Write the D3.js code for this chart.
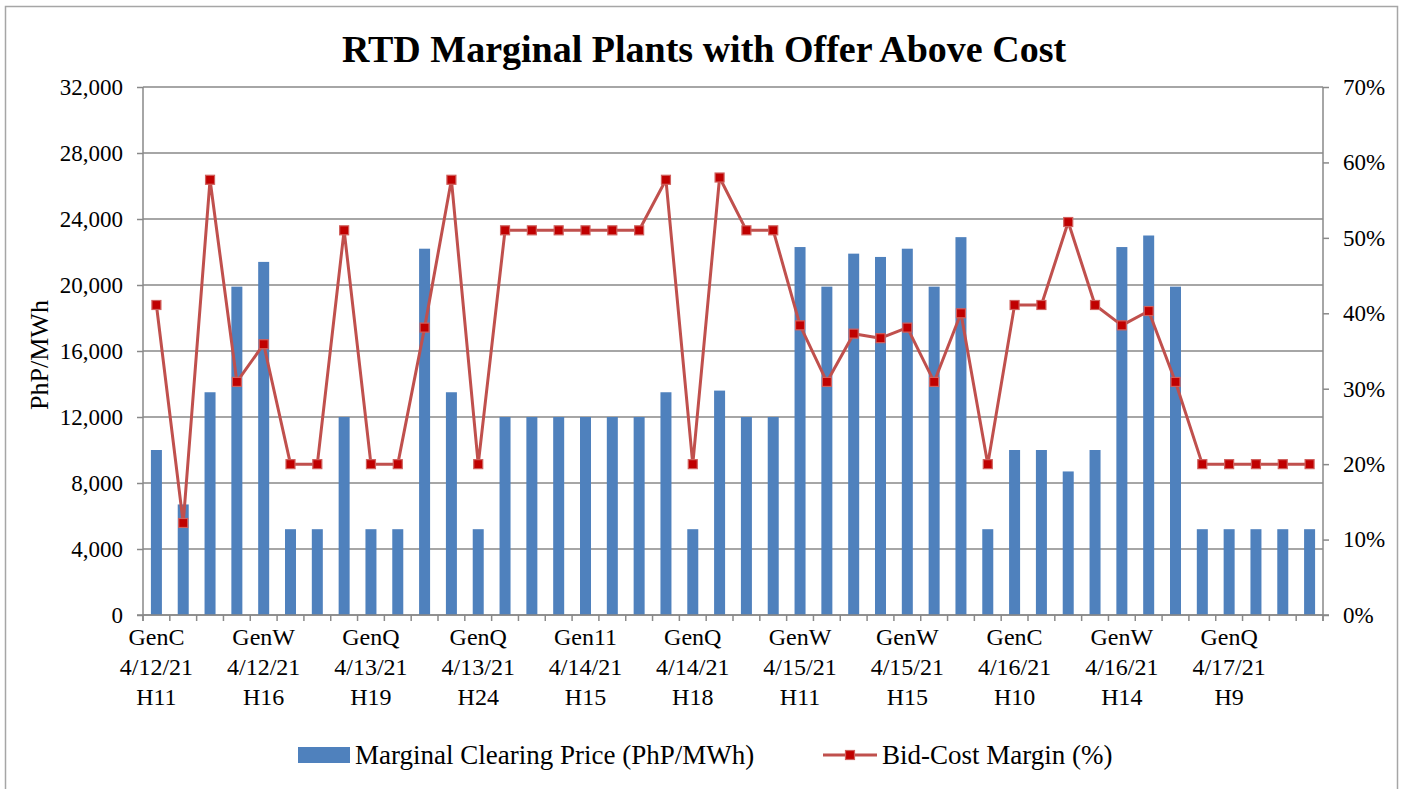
<!DOCTYPE html>
<html lang="en">
<head>
  <meta charset="UTF-8">
  <title>RTD Marginal Plants with Offer Above Cost</title>
  <script src="https://cdn.jsdelivr.net/npm/d3@7"></script>
  <style>
    body { margin: 0; background: #fff; }
    text { font-family: "Liberation Serif", "Times New Roman", serif; fill: #000; }
  </style>
</head>
<body>
  <svg width="1405" height="789"></svg>
  <script>
    // every 4th category carries a label
    let tickLabels = [
      ['GenC', '4/12/21', 'H11'], ['GenW', '4/12/21', 'H16'], ['GenQ', '4/13/21', 'H19'],
      ['GenQ', '4/13/21', 'H24'], ['Gen11', '4/14/21', 'H15'], ['GenQ', '4/14/21', 'H18'],
      ['GenW', '4/15/21', 'H11'], ['GenW', '4/15/21', 'H15'], ['GenC', '4/16/21', 'H10'],
      ['GenW', '4/16/21', 'H14'], ['GenQ', '4/17/21', 'H9']
    ];
    let price = [
      10000, 6700, 13500, 19900, 21400, 5200, 5200, 12000, 5200, 5200, 22200,
      13500, 5200, 12000, 12000, 12000, 12000, 12000, 12000, 13500, 5200, 13600,
      12000, 12000, 22300, 19900, 21900, 21700, 22200, 19900, 22900, 5200, 10000,
      10000, 8700, 10000, 22300, 23000, 19900, 5200, 5200, 5200, 5200, 5200
    ];
    let margin = [
      41.1, 12.2, 57.7, 30.9, 35.9, 20, 20, 51, 20, 20, 38.1,
      57.7, 20, 51, 51, 51, 51, 51, 51, 57.7, 20, 58.0,
      51, 51, 38.4, 30.9, 37.3, 36.7, 38.1, 30.9, 40.0, 20, 41.1,
      41.1, 52.1, 41.1, 38.4, 40.3, 30.9, 20, 20, 20, 20, 20
    ];
    let leftTicks = [0, 4000, 8000, 12000, 16000, 20000, 24000, 28000, 32000];
    let rightTicks = [0, 10, 20, 30, 40, 50, 60, 70];

    let svg = d3.select('svg');
    let plotL = 143, plotR = 1323, plotT = 87, plotB = 615;
    let gray = '#898989';

    // outer frame
    svg.append('rect')
      .attr('x', 5.5).attr('y', 6.5).attr('width', 1392).attr('height', 800)
      .attr('fill', 'none').attr('stroke', '#a6a6a6').attr('stroke-width', 1.5);

    let idx = price.map((d, i) => i);
    let x = d3.scaleBand().domain(idx).range([plotL, plotR]);
    let y = d3.scaleLinear().domain([0, 32000]).range([plotB, plotT]);
    let y2 = d3.scaleLinear().domain([0, 70]).range([plotB, plotT]);

    // gridlines
    svg.append('g')
      .selectAll('line')
      .data(leftTicks)
      .join('line')
      .attr('x1', plotL).attr('x2', plotR)
      .attr('y1', d => y(d)).attr('y2', d => y(d))
      .attr('stroke', gray).attr('stroke-width', 1.5);

    // bars
    let bw = 11;
    svg.append('g')
      .selectAll('rect')
      .data(price)
      .join('rect')
      .attr('x', (d, i) => x(i) + x.bandwidth() / 2 - bw / 2)
      .attr('y', d => y(d))
      .attr('width', bw)
      .attr('height', d => plotB - y(d))
      .attr('fill', '#4f81bd');

    // left axis
    let gl = svg.append('g')
      .attr('transform', `translate(${plotL},0)`)
      .call(d3.axisLeft(y).tickValues(leftTicks).tickSize(6).tickPadding(14).tickFormat(d3.format(',')));
    // right axis
    let gr = svg.append('g')
      .attr('transform', `translate(${plotR},0)`)
      .call(d3.axisRight(y2).tickValues(rightTicks).tickSize(6).tickPadding(14).tickFormat(d => d + '%'));
    // bottom axis ticks at band boundaries
    let gb = svg.append('g')
      .attr('transform', `translate(0,${plotB})`);
    gb.append('line')
      .attr('x1', plotL - 6).attr('x2', plotR + 6)
      .attr('stroke', gray).attr('stroke-width', 1.5);
    gb.selectAll('.bt')
      .data(idx.concat([price.length]))
      .join('line')
      .attr('class', 'bt')
      .attr('x1', d => plotL + d * x.step()).attr('x2', d => plotL + d * x.step())
      .attr('y1', 0).attr('y2', 6)
      .attr('stroke', gray).attr('stroke-width', 1.5);

    [gl, gr].forEach(g => {
      g.select('.domain').attr('stroke', gray).attr('stroke-width', 1.5);
      g.selectAll('.tick line').attr('stroke', gray).attr('stroke-width', 1.5);
      g.selectAll('.tick text').style('font-family', '"Liberation Serif", serif')
        .style('font-size', '23px').attr('fill', '#000');
    });
    gl.select('.domain').attr('d', `M0,${plotT}V${plotB + 6}`);
    gr.select('.domain').attr('d', `M0,${plotT}V${plotB + 6}`);

    // category labels
    let lab = svg.append('g');
    tickLabels.forEach((t, k) => {
      let cx = x(k * 4) + x.bandwidth() / 2;
      lab.append('text')
        .attr('x', cx).attr('y', 645)
        .attr('text-anchor', 'middle')
        .style('font-size', '24px')
        .selectAll('tspan')
        .data(t)
        .join('tspan')
        .attr('x', cx)
        .attr('dy', (d, i) => i === 0 ? 0 : 30)
        .text(d => d);
    });

    // line series
    let line = d3.line()
      .x((d, i) => x(i) + x.bandwidth() / 2)
      .y(d => y2(d));
    svg.append('path')
      .datum(margin)
      .attr('d', line)
      .attr('fill', 'none')
      .attr('stroke', '#c0504d')
      .attr('stroke-width', 3)
      .attr('stroke-linejoin', 'round');
    svg.append('g')
      .selectAll('rect')
      .data(margin)
      .join('rect')
      .attr('x', (d, i) => x(i) + x.bandwidth() / 2 - 4.5)
      .attr('y', d => y2(d) - 4.5)
      .attr('width', 9).attr('height', 9)
      .attr('fill', '#c00000')
      .attr('stroke', '#d0605d')
      .attr('stroke-width', 1.2);

    // title
    svg.append('text')
      .attr('x', 704).attr('y', 62)
      .attr('text-anchor', 'middle')
      .style('font-size', '38px').style('font-weight', 'bold')
      .text('RTD Marginal Plants with Offer Above Cost');

    // y axis title
    svg.append('text')
      .attr('transform', 'translate(48,355) rotate(-90)')
      .attr('text-anchor', 'middle')
      .style('font-size', '26px')
      .text('PhP/MWh');

    // legend
    let lg = svg.append('g');
    lg.append('rect')
      .attr('x', 298).attr('y', 747).attr('width', 52).attr('height', 16)
      .attr('fill', '#4f81bd');
    lg.append('text')
      .attr('x', 355).attr('y', 764)
      .style('font-size', '27px')
      .text('Marginal Clearing Price (PhP/MWh)');
    lg.append('line')
      .attr('x1', 823).attr('x2', 877).attr('y1', 755).attr('y2', 755)
      .attr('stroke', '#c0504d').attr('stroke-width', 3);
    lg.append('rect')
      .attr('x', 845.5).attr('y', 750.5).attr('width', 9).attr('height', 9)
      .attr('fill', '#c00000').attr('stroke', '#d0605d').attr('stroke-width', 1.2);
    lg.append('text')
      .attr('x', 882).attr('y', 764)
      .style('font-size', '27px')
      .text('Bid-Cost Margin (%)');
  </script>
</body>
</html>
